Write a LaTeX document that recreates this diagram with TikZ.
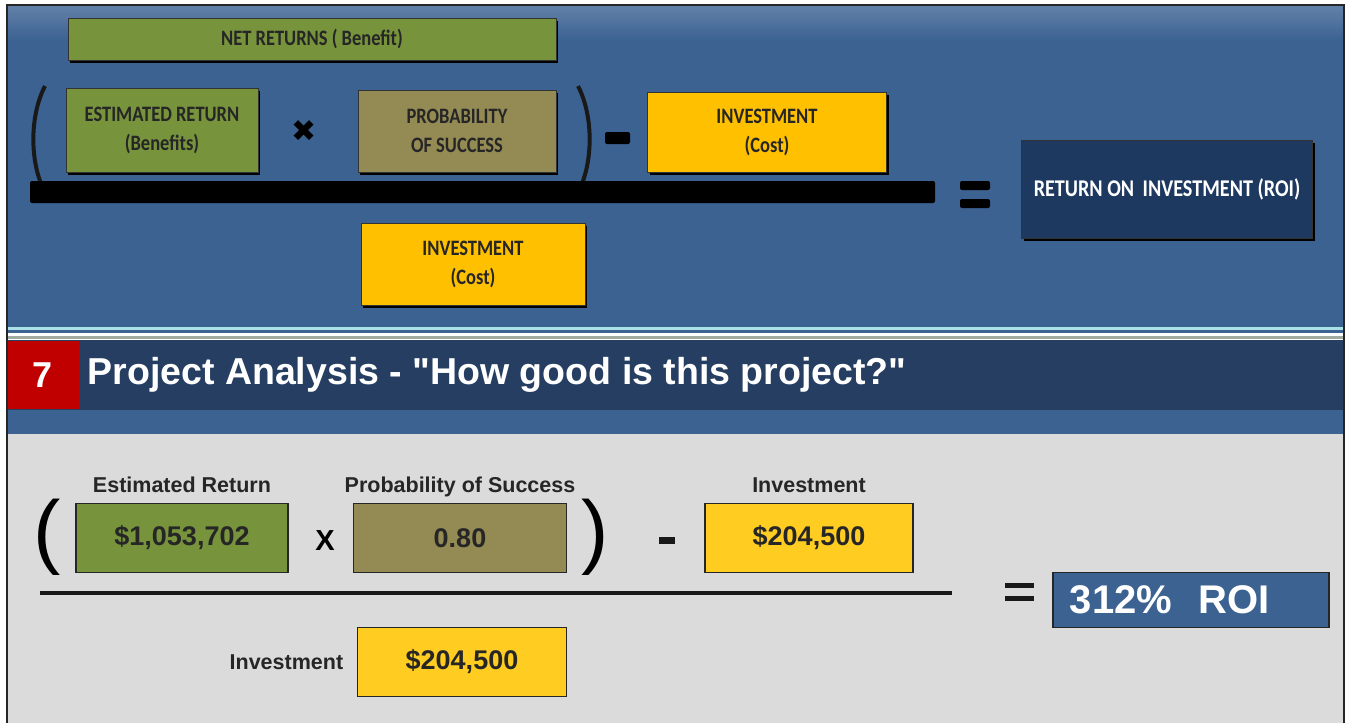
\documentclass[tikz,border=0pt]{standalone}
\usepackage{fontspec}
\setmainfont{Carlito}
\newfontfamily\arialfont{Liberation Sans}
\newfontfamily\symfont{DejaVu Sans}
\newfontfamily\narrowfont[FakeStretch=0.84]{Carlito}
\usetikzlibrary{positioning,shadows}

\definecolor{topblue}{RGB}{60,98,146}
\definecolor{navy}{RGB}{37,62,97}
\definecolor{roinavy}{RGB}{30,57,96}
\definecolor{boxgreen}{RGB}{119,147,60}
\definecolor{boxolive}{RGB}{148,138,84}
\definecolor{boxgold}{RGB}{255,192,0}
\definecolor{valgold}{RGB}{255,204,34}
\definecolor{redtag}{RGB}{192,0,0}
\definecolor{panelgray}{RGB}{219,219,219}
\definecolor{lightline}{RGB}{170,225,230}
\definecolor{greyline}{RGB}{160,170,160}

\begin{document}
\begin{tikzpicture}[x=1pt,y=-1pt,
  tbox/.style={draw=black!80,line width=1pt,inner sep=0pt,align=center,
    font=\narrowfont\bfseries\fontsize{22}{29}\selectfont,text=black!85,
    drop shadow={shadow xshift=2pt,shadow yshift=-3pt,fill=black,opacity=1}},
  vbox/.style={draw=black!85,line width=1.6pt,inner sep=0pt,
    font=\arialfont\bfseries\fontsize{27}{30}\selectfont,text=black!85},
  lbl/.style={font=\arialfont\bfseries\fontsize{21.5}{24}\selectfont,text=black!85},
  bar/.style={fill=black,rounded corners=2pt}]
\useasboundingbox (0,0) rectangle (1346,723);
\fill[white] (0,0) rectangle (1346,723);

% top panel
\fill[topblue] (7,5) rectangle (1344,333);
\shade[top color=topblue!80!white,bottom color=topblue] (7,5) rectangle (1344,40);
\fill[lightline] (7,327) rectangle (1344,329.5);
\fill[greyline] (7,336) rectangle (1344,339);
\fill[navy] (7,340) rectangle (1344,410);
\fill[topblue] (7,410) rectangle (1344,434);
\fill[panelgray] (7,434) rectangle (1344,723);
\draw[line width=1.5pt,black!85] (7,723) -- (7,5) -- (1344,5) -- (1344,723);

% top formula
\node[tbox,fill=boxgreen,minimum width=488,minimum height=42] (net) at (312,39) {NET RETURNS ( Benefit)};
\node[tbox,fill=boxgreen,minimum width=192,minimum height=84] (est) at (162,130) {ESTIMATED RETURN\\(Benefits)};
\node[tbox,fill=boxolive,minimum width=198,minimum height=82] (prob) at (457,131) {PROBABILITY\\OF SUCCESS};
\node[tbox,fill=boxgold,minimum width=239,minimum height=80] (inv) at (767,132) {INVESTMENT\\(Cost)};
\node[tbox,fill=boxgold,minimum width=224,minimum height=82] (invb) at (473,264) {INVESTMENT\\(Cost)};
\node[tbox,fill=roinavy,text=white,minimum width=291,minimum height=98,
  font=\narrowfont\bfseries\fontsize{24}{29}\selectfont] (roi) at (1167,189) {RETURN ON\, INVESTMENT (ROI)};
\node[font=\symfont\fontsize{30}{30}\selectfont] (times) at (304,131) {✖};
\draw[line width=4pt,black!90] (45,86) .. controls (30,115) and (30,158) .. (42,186);
\draw[line width=4pt,black!90] (578,86) .. controls (593,115) and (593,158) .. (581,186);
\fill[bar] (605,132) rectangle (630,144);
\fill[bar] (30,181) rectangle (935,203);
\fill[bar] (960,181) rectangle (990,190);
\fill[bar] (960,199) rectangle (990,208);

% header
\fill[redtag] (8,341) rectangle (79,409);
\node[font=\arialfont\bfseries\fontsize{36}{36}\selectfont,text=white] (num) at (43,375) {7};
\node[font=\arialfont\bfseries\fontsize{37.5}{36}\selectfont,text=white,anchor=west] (title) at (84,375) {Project Analysis - "How good is this project?"};

% bottom formula
\node[vbox,fill=boxgreen,minimum width=212,minimum height=69] (estv) at (182,538) {\$1,053,702};
\node[vbox,fill=boxolive,minimum width=213,minimum height=69] (probv) at (460,538) {0.80};
\node[vbox,fill=valgold,minimum width=208,minimum height=69] (invv) at (809,538) {\$204,500};
\node[vbox,fill=valgold,minimum width=209,minimum height=69] (invbv) at (462,662) {\$204,500};
\node[lbl,anchor=base] (estl) at ([yshift=10pt]estv.north) {Estimated Return};
\node[lbl,anchor=base] (probl) at ([yshift=10pt]probv.north) {Probability of Success};
\node[lbl,anchor=base] (invl) at ([yshift=10pt]invv.north) {Investment};
\node[lbl,left=10pt of invbv] (invbl) {Investment};
\node[font=\arialfont\bfseries\fontsize{29}{29}\selectfont] (x) at (325,541) {X};
\node[font=\arialfont\fontsize{82}{82}\selectfont] (lp) at (47,537) {(};
\node[font=\arialfont\fontsize{82}{82}\selectfont] (rp) at (595,537) {)};
\fill[black!90] (659,537) rectangle (675,544);
\fill[black!90] (40,591) rectangle (952,595);
\fill[black!90] (1005,583) rectangle (1034,588);
\fill[black!90] (1005,596) rectangle (1034,601);
\node[draw=black!85,line width=1.6pt,fill=topblue,minimum width=276,minimum height=55,inner sep=0pt,
  text=white,font=\arialfont\bfseries\fontsize{40}{40}\selectfont,anchor=west,text width=262] (roiv) at (1052,600) {\hspace*{10pt}312\%\ \ ROI};
\end{tikzpicture}
\end{document}
